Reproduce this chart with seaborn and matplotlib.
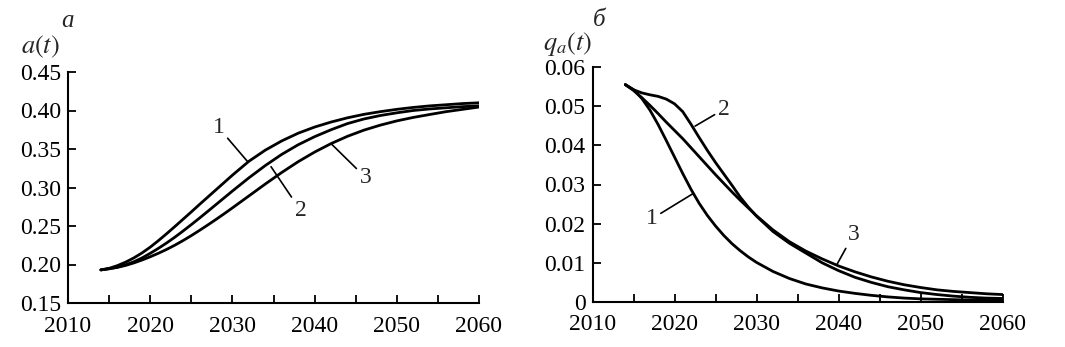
import numpy as np
import pandas as pd
import matplotlib
matplotlib.use("Agg")
import matplotlib.pyplot as plt
import seaborn as sns

# ---------------- data ----------------
years = [2014, 2015, 2016, 2017, 2018, 2019, 2020, 2021, 2022, 2023, 2024, 2025, 2026,
         2027, 2028, 2029, 2030, 2032, 2034, 2036, 2038, 2040, 2042, 2044, 2046, 2048,
         2050, 2052, 2054, 2056, 2058, 2060]

a_curve1 = [0.1930, 0.1950, 0.1985, 0.2030, 0.2085, 0.2150, 0.2225, 0.2310, 0.2400, 0.2493,
            0.2588, 0.2683, 0.2780, 0.2875, 0.2970, 0.3065, 0.3160, 0.3340, 0.3485, 0.3605,
            0.3705, 0.3785, 0.3850, 0.3905, 0.3950, 0.3985, 0.4015, 0.4040, 0.4060, 0.4075,
            0.4090, 0.4100]
a_curve2 = [0.1930, 0.1945, 0.1965, 0.1995, 0.2035, 0.2085, 0.2145, 0.2210, 0.2280, 0.2355,
            0.2435, 0.2518, 0.2603, 0.2690, 0.2778, 0.2866, 0.2954, 0.3125, 0.3285, 0.3430,
            0.3555, 0.3660, 0.3750, 0.3830, 0.3890, 0.3935, 0.3970, 0.4000, 0.4020, 0.4035,
            0.4050, 0.4060]
a_curve3 = [0.1930, 0.1945, 0.1963, 0.1988, 0.2020, 0.2058, 0.2100, 0.2146, 0.2196, 0.2251,
            0.2311, 0.2375, 0.2443, 0.2513, 0.2585, 0.2659, 0.2735, 0.2890, 0.3045, 0.3195,
            0.3335, 0.3460, 0.3570, 0.3665, 0.3745, 0.3810, 0.3865, 0.3910, 0.3948, 0.3985,
            0.4015, 0.4045]

q_curve1 = [0.0555, 0.0542, 0.0520, 0.0490, 0.0453, 0.0412, 0.0370, 0.0328, 0.0288, 0.0252,
            0.0221, 0.0194, 0.0170, 0.0149, 0.0131, 0.0115, 0.0101, 0.0078, 0.0060, 0.0046,
            0.0036, 0.0028, 0.0022, 0.0017, 0.0013, 0.0010, 0.0008, 0.0007, 0.0006, 0.0005,
            0.0004, 0.0004]
q_curve2 = [0.0555, 0.0542, 0.0534, 0.0529, 0.0525, 0.0518, 0.0506, 0.0486, 0.0454, 0.0420,
            0.0387, 0.0356, 0.0327, 0.0298, 0.0268, 0.0242, 0.0219, 0.0180, 0.0150, 0.0125,
            0.0100, 0.0080, 0.0063, 0.0050, 0.0039, 0.0031, 0.0024, 0.0019, 0.0015, 0.0012,
            0.0010, 0.0009]
q_curve3 = [0.0555, 0.0540, 0.0522, 0.0502, 0.0481, 0.0459, 0.0438, 0.0417, 0.0394, 0.0371,
            0.0348, 0.0325, 0.0303, 0.0281, 0.0260, 0.0240, 0.0220, 0.0184, 0.0154, 0.0130,
            0.0110, 0.0092, 0.0077, 0.0064, 0.0053, 0.0044, 0.0037, 0.0031, 0.0027, 0.0024,
            0.0021, 0.0019]

curve_names = ["1", "2", "3"]
x_ticks = [2010, 2020, 2030, 2040, 2050, 2060]
x_tick_labels = ["2010", "2020", "2030", "2040", "2050", "2060"]
x_minor_ticks = [2015, 2025, 2035, 2045, 2055]
a_ticks = [0.15, 0.20, 0.25, 0.30, 0.35, 0.40, 0.45]
a_tick_labels = ["0.15", "0.20", "0.25", "0.30", "0.35", "0.40", "0.45"]
q_ticks = [0.0, 0.01, 0.02, 0.03, 0.04, 0.05, 0.06]
q_tick_labels = ["0", "0.01", "0.02", "0.03", "0.04", "0.05", "0.06"]

# ---------------- style ----------------
sns.set_theme(style="ticks")
plt.rcParams["font.family"] = ["Liberation Serif", "DejaVu Serif"]
plt.rcParams["mathtext.fontset"] = "stix"

FS = 17
LW = 2.0


def long_frame(c1, c2, c3):
    return pd.DataFrame({
        "year": years * 3,
        "val": c1 + c2 + c3,
        "curve": sum([[n] * len(years) for n in curve_names], []),
    })


df_a = long_frame(a_curve1, a_curve2, a_curve3)
df_q = long_frame(q_curve1, q_curve2, q_curve3)

W, H = 1065, 347
fig = plt.figure(figsize=(W / 100, H / 100), dpi=100)
fig.patch.set_facecolor("white")

axL = fig.add_axes([68 / W, 1 - 303 / H, 411 / W, 231 / H])
axR = fig.add_axes([592.5 / W, 1 - 302 / H, 410.2 / W, 235 / H])

for ax, df in ((axL, df_a), (axR, df_q)):
    sns.lineplot(data=df, x="year", y="val", hue="curve", palette=["black"] * 3,
                 estimator=None, sort=True, legend=False, linewidth=LW, ax=ax)
    ax.set_facecolor("white")
    ax.set_xlim(2010, 2060)
    ax.set_xticks(x_ticks)
    ax.set_xticklabels(x_tick_labels)
    ax.set_xticks(x_minor_ticks, minor=True)
    ax.set_xlabel("")
    ax.set_ylabel("")
    for s in ("top", "right"):
        ax.spines[s].set_visible(False)
    for s in ("left", "bottom"):
        ax.spines[s].set_linewidth(1.5)
        ax.spines[s].set_color("black")
    ax.tick_params(axis="both", which="both", direction="in", length=6, width=1.3,
                   colors="black", labelsize=FS)
    ax.tick_params(axis="x", which="major", pad=9)
    ax.tick_params(axis="y", which="major", pad=5)
    ax.grid(False)

axL.set_ylim(0.15, 0.45)
axL.set_yticks(a_ticks)
axL.set_yticklabels(a_tick_labels)
axR.set_ylim(0.0, 0.06)
axR.set_yticks(q_ticks)
axR.set_yticklabels(q_tick_labels)

# panel letters and axis titles
axL.text(0.0, 1.22, "a", transform=axL.transAxes, fontsize=FS + 1, style="italic",
         ha="center", va="center")
axL.text(-0.068, 1.11, r"$a(t)$", transform=axL.transAxes, fontsize=FS + 2,
         ha="center", va="center")
axR.text(0.016, 1.20, "б", transform=axR.transAxes, fontsize=FS + 1, style="italic",
         ha="center", va="center")
axR.text(-0.06, 1.10, r"$q_a(t)$", transform=axR.transAxes, fontsize=FS + 2,
         ha="center", va="center")

# curve labels with leader lines
lk = dict(fontsize=FS, ha="center", va="center")
ap = dict(arrowstyle="-", color="black", lw=1.2, shrinkA=0, shrinkB=0)
axL.annotate("1", xy=(2031.9, 0.333), xytext=(2028.3, 0.378), arrowprops=ap, **lk)
axL.annotate("2", xy=(2034.7, 0.327), xytext=(2038.3, 0.270), arrowprops=ap, **lk)
axL.annotate("3", xy=(2042.0, 0.357), xytext=(2046.2, 0.313), arrowprops=ap, **lk)

axR.annotate("2", xy=(2022.5, 0.0449), xytext=(2026.0, 0.0492), arrowprops=ap, **lk)
axR.annotate("1", xy=(2022.2, 0.0276), xytext=(2017.2, 0.0212), arrowprops=ap, **lk)
axR.annotate("3", xy=(2039.8, 0.0096), xytext=(2041.8, 0.0172), arrowprops=ap, **lk)

fig.savefig("out.png", dpi=100, facecolor="white")
